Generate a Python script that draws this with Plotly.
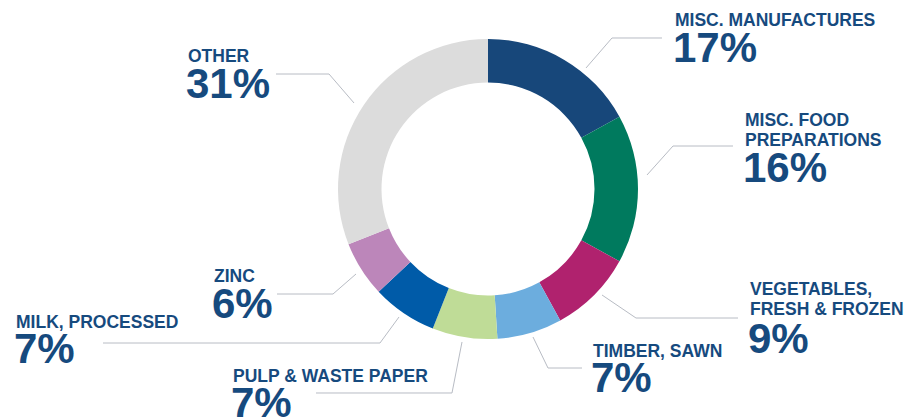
import plotly.graph_objects as go

# ---- data ----
categories = ["MISC. MANUFACTURES", "MISC. FOOD PREPARATIONS", "VEGETABLES, FRESH & FROZEN",
              "TIMBER, SAWN", "PULP & WASTE PAPER", "MILK, PROCESSED", "ZINC", "OTHER"]
values = [17, 16, 9, 7, 7, 7, 6, 31]
label_lines = [["MISC. MANUFACTURES"], ["MISC. FOOD", "PREPARATIONS"], ["VEGETABLES,", "FRESH & FROZEN"],
               ["TIMBER, SAWN"], ["PULP & WASTE PAPER"], ["MILK, PROCESSED"], ["ZINC"], ["OTHER"]]
colors = ["#17477a", "#007a5e", "#b0226e", "#6cadde", "#bfdc97", "#005ba8", "#bc86ba", "#dcdcdc"]

# ---- layout (pixel positions of labels and leader lines) ----
W, H = 920, 419
TEXT = "#164a7e"
LINE = "#b8bcc4"
label_x = [673, 743, 748, 591, 231, 14, 212, 186]
label_y = [20.5, 120, 288.5, 350.5, 376, 322, 275.5, 56.5]   # cap-centre of first label line
pct_y = [47.5, 167.5, 338.5, 377, 402, 348, 303, 84]
leaders = [
    [(586, 68), (612, 38), (662, 38)],
    [(647, 175), (673, 146), (733, 146)],
    [(602, 295), (636, 318), (738, 318)],
    [(533, 337), (548, 368), (582, 368)],
    [(462, 342), (452, 393), (316, 393)],
    [(399, 317), (380, 343), (103, 343)],
    [(356, 274), (333, 294), (277, 294)],
    [(354, 103), (329, 74), (276, 74)],
]


def px(x, y):
    return x / W, 1 - y / H


fig = go.Figure()
fig.add_trace(go.Pie(
    labels=categories, values=values, sort=False, direction="clockwise", rotation=0,
    hole=0.71, marker=dict(colors=colors, line=dict(width=0)),
    textinfo="none", hoverinfo="label+percent", showlegend=False,
    domain=dict(x=[338 / W, 638 / W], y=[1 - 339 / H, 1 - 39 / H]),
))

FONT = "Liberation Sans, Arial, sans-serif"
annotations = []
shapes = []
for i, lines in enumerate(label_lines):
    for j, ln in enumerate(lines):
        x, y = px(label_x[i], label_y[i] + j * 20)
        annotations.append(dict(x=x, y=y, xref="paper", yref="paper", text="<b>%s</b>" % ln,
                                showarrow=False, xanchor="left", yanchor="middle",
                                font=dict(family=FONT, size=17.5, color=TEXT)))
    x, y = px(label_x[i] - 2, pct_y[i])
    annotations.append(dict(x=x, y=y, xref="paper", yref="paper", text="<b>%d%%</b>" % values[i],
                            showarrow=False, xanchor="left", yanchor="middle",
                            font=dict(family=FONT, size=42, color=TEXT)))
    pts = leaders[i]
    path = "M " + " L ".join("%f,%f" % px(a, b) for a, b in pts)
    shapes.append(dict(type="path", xref="paper", yref="paper", path=path,
                       line=dict(color=LINE, width=1)))

fig.update_layout(
    width=W, height=H, margin=dict(l=0, r=0, t=0, b=0),
    paper_bgcolor="white", plot_bgcolor="white",
    annotations=annotations, shapes=shapes, showlegend=False,
)
fig.write_html("out.html", config={"displayModeBar": False},
               post_script="document.body.style.margin='0';document.body.style.overflow='hidden';")
